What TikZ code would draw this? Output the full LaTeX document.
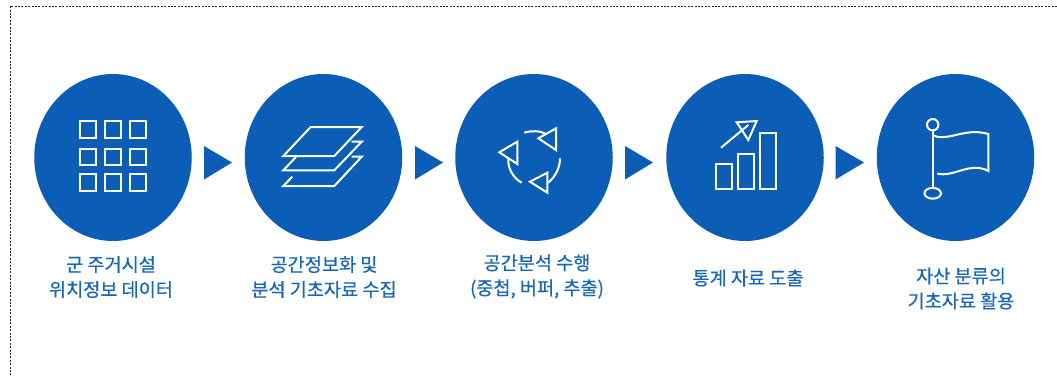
\documentclass[tikz,border=0pt]{standalone}
\usepackage{fontspec}
\setmainfont{Noto Sans CJK KR}[FakeBold=0.35]
\usetikzlibrary{shapes.geometric}
\definecolor{disc}{HTML}{0C5DB6}
\definecolor{lbl}{HTML}{1766B8}
\tikzset{
  disc/.style={ellipse,fill=disc,inner sep=0pt,minimum width=157.5pt,minimum height=167pt},
  pointer/.style={fill=disc,draw=none},
  ico/.style={draw=white,line width=2pt,line join=miter,fill=none},
  lab/.style={text=lbl,align=center,inner sep=0pt,font=\fontsize{18.6}{25}\selectfont},
  frameline/.style={draw=black!85,line width=0.8pt,dash pattern=on 2pt off 1.4pt}
}
\begin{document}
\begin{tikzpicture}[x=1pt,y=-1pt]
\useasboundingbox (0,0) rectangle (1057,376);
\fill[white] (0,0) rectangle (1057,376);
\draw[frameline] (1057,6) -- (10,6) -- (10,376);
% discs
\node[disc] (c1) at (113,157.5) {};
\node[disc] (c2) at (323.5,157.5) {};
\node[disc] (c3) at (534,157.5) {};
\node[disc] (c4) at (745,157.5) {};
\node[disc] (c5) at (955.5,157.5) {};
% pointers
\fill[pointer] (204,146) -- (232,162.5) -- (204,179.5) -- cycle;
\fill[pointer] (415,146) -- (443,162.5) -- (415,179.5) -- cycle;
\fill[pointer] (625,146) -- (653,162.5) -- (625,179.5) -- cycle;
\fill[pointer] (835.5,146) -- (864,162.5) -- (835.5,179.5) -- cycle;
% icon 1: grid
\foreach \x in {79.5,104.5,130}{\foreach \y in {121,148.5,174}{
  \draw[ico] (\x,\y) rectangle ++(16,16.5);}}
% icon 2: layers
\draw[ico] (310.7,127) -- (361.7,127) -- (334.3,156) -- (283.3,156) -- cycle;
\draw[ico] (351.7,141.7) -- (361.7,141.7) -- (334.3,170.3) -- (283.3,170.3) -- (296,157);
\draw[ico] (351.7,156.7) -- (361.7,156.7) -- (334.3,186) -- (283.3,186) -- (292.3,176.7);
% icon 3: cycle
\draw[ico] (556,128.3) -- (538.3,138.3) -- (556,150) -- cycle;
\draw[ico] (517.3,141.7) -- (499.3,152.3) -- (517.3,164) -- cycle;
\draw[ico] (547.3,172.7) -- (530,181.7) -- (547.3,192.7) -- cycle;
\draw[ico] (524.3,132.7) .. controls (531,130.5) and (540,130.5) .. (546,134);
\draw[ico] (508.3,158.3) .. controls (507.5,168) and (513,178) .. (521.7,182.7);
\draw[ico] (560,158.3) .. controls (560,167) and (556,176) .. (548.3,182.7);
% icon 4: chart
\draw[ico] (716.3,164) rectangle (732.3,189.3);
\draw[ico] (738,154) rectangle (754.3,189.3);
\draw[ico] (760,133.3) rectangle (776,189.3);
\draw[ico] (721,147.7) -- (748.3,125);
\draw[ico] (736.7,122.3) -- (756.7,121) -- (748.3,140) -- cycle;
% icon 5: flag
\draw[ico] (932.7,124.7) circle[radius=5.7pt];
\draw[ico] (932.7,130.4) -- (932.7,188);
\draw[ico] (932.7,193.3) ellipse[x radius=8.3pt,y radius=5.4pt];
\draw[ico] (933.5,135.5) .. controls (948,142) and (965,127) .. (988.3,134) -- (988.3,171)
  .. controls (970,161) and (953,178) .. (937.3,173.5);
% labels
\node[lab] (t1) at (111,277) {군 주거시설\\위치정보 데이터};
\node[lab] (t2) at (324,277) {공간정보화 및\\분석 기초자료 수집};
\node[lab] (t3) at (537,276.5) {공간분석 수행\\(중첩, 버퍼, 추출)};
\node[lab] (t4) at (748,278) {통계 자료 도출};
\node[lab] (t5) at (961,288.5) {자산 분류의\\기초자료 활용};
\end{tikzpicture}
\end{document}
